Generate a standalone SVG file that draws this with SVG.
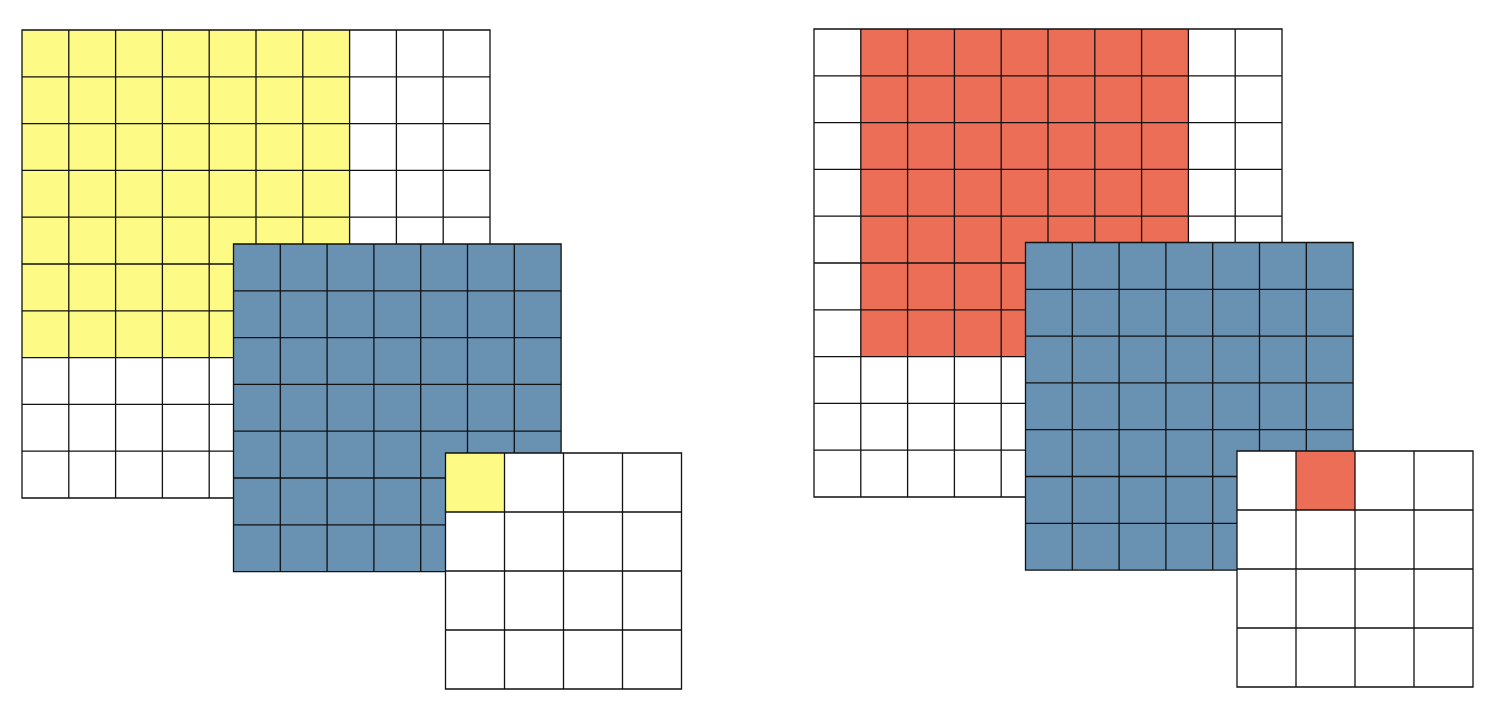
<svg xmlns="http://www.w3.org/2000/svg" width="1492" height="710" viewBox="0 0 1492 710">
<style>
.g{fill:none;stroke:#111;stroke-width:1.3}
.w{fill:#fff}
.y{fill:#fdfb85}
.b{fill:#6891b2}
.r{fill:#ec6e56}
</style>
<rect width="1492" height="710" fill="#fff"/>
<g id="left-input">
<rect class="w" x="22" y="30" width="468" height="468"/>
<rect class="y" x="22" y="30" width="327.6" height="327.6"/>
<path class="g" d="M22 30H490V498H22Z M68.8 30V498 M115.6 30V498 M162.4 30V498 M209.2 30V498 M256 30V498 M302.8 30V498 M349.6 30V498 M396.4 30V498 M443.2 30V498 M22 76.8H490 M22 123.6H490 M22 170.4H490 M22 217.2H490 M22 264H490 M22 310.8H490 M22 357.6H490 M22 404.4H490 M22 451.2H490"/>
</g>
<g id="left-kernel">
<rect class="b" x="233.5" y="244" width="327.6" height="327.6"/>
<path class="g" d="M233.5 244H561.1V571.6H233.5Z M280.3 244V571.6 M327.1 244V571.6 M373.9 244V571.6 M420.7 244V571.6 M467.5 244V571.6 M514.3 244V571.6 M233.5 290.8H561.1 M233.5 337.6H561.1 M233.5 384.4H561.1 M233.5 431.2H561.1 M233.5 478H561.1 M233.5 524.8H561.1"/>
</g>
<g id="left-output">
<rect class="w" x="445.5" y="453" width="236" height="236"/>
<rect class="y" x="445.5" y="453" width="59" height="59"/>
<path class="g" d="M445.5 453H681.5V689H445.5Z M504.5 453V689 M563.5 453V689 M622.5 453V689 M445.5 512H681.5 M445.5 571H681.5 M445.5 630H681.5"/>
</g>
<g id="right-input">
<rect class="w" x="814" y="29" width="468" height="468"/>
<rect class="r" x="860.8" y="29" width="327.6" height="327.6"/>
<path class="g" d="M814 29H1282V497H814Z M860.8 29V497 M907.6 29V497 M954.4 29V497 M1001.2 29V497 M1048 29V497 M1094.8 29V497 M1141.6 29V497 M1188.4 29V497 M1235.2 29V497 M814 75.8H1282 M814 122.6H1282 M814 169.4H1282 M814 216.2H1282 M814 263H1282 M814 309.8H1282 M814 356.6H1282 M814 403.4H1282 M814 450.2H1282"/>
</g>
<g id="right-kernel">
<rect class="b" x="1025.5" y="242.5" width="327.6" height="327.6"/>
<path class="g" d="M1025.5 242.5H1353.1V570.1H1025.5Z M1072.3 242.5V570.1 M1119.1 242.5V570.1 M1165.9 242.5V570.1 M1212.7 242.5V570.1 M1259.5 242.5V570.1 M1306.3 242.5V570.1 M1025.5 289.3H1353.1 M1025.5 336.1H1353.1 M1025.5 382.9H1353.1 M1025.5 429.7H1353.1 M1025.5 476.5H1353.1 M1025.5 523.3H1353.1"/>
</g>
<g id="right-output">
<rect class="w" x="1237" y="451" width="236" height="236"/>
<rect class="r" x="1296" y="451" width="59" height="59"/>
<path class="g" d="M1237 451H1473V687H1237Z M1296 451V687 M1355 451V687 M1414 451V687 M1237 510H1473 M1237 569H1473 M1237 628H1473"/>
</g>
<g id="connectors"></g>
</svg>
